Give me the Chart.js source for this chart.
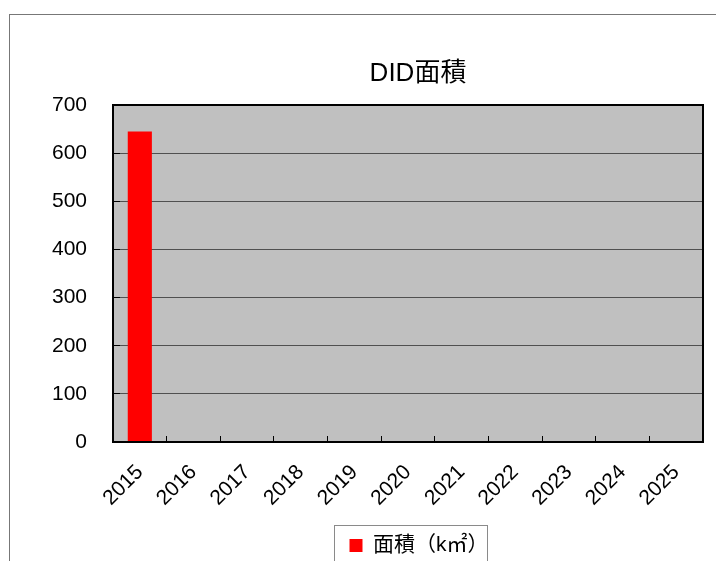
<!DOCTYPE html>
<html><head><meta charset="utf-8">
<script src="https://cdn.jsdelivr.net/npm/chart.js@4/dist/chart.umd.min.js"></script>
<style>
html,body{margin:0;padding:0;background:#fff;overflow:hidden;width:716px;height:561px;}
#frame{position:absolute;left:9px;top:14px;width:800px;height:700px;border:1px solid #777;box-sizing:border-box;}
#wrap{position:absolute;left:0;top:0;width:716px;height:580px;}
</style></head><body>
<div id="frame"></div>
<div id="wrap"><canvas id="c" width="716" height="580"></canvas></div>
<script>
const chartTitle = 'DID面積';
const categories = ['2015','2016','2017','2018','2019','2020','2021','2022','2023','2024','2025'];
const seriesLabel = '面積（k㎡）';
const areaValues = [645, null, null, null, null, null, null, null, null, null, null];
const yMin = 0, yMax = 700, yStep = 100;

const latinCjk = '"Liberation Sans", "Noto Sans CJK JP", sans-serif';
const legendShift = 11;

const plotBackground = {
  id: 'plotBackground',
  beforeDraw(chart) {
    const {ctx, chartArea: a} = chart;
    ctx.save(); ctx.fillStyle = '#C0C0C0';
    ctx.fillRect(a.left, a.top, a.right - a.left, a.bottom - a.top);
    ctx.restore();
  }
};
const plotBorder = {
  id: 'plotBorder',
  afterDatasetsDraw(chart) {
    const {ctx, chartArea: a} = chart;
    ctx.save(); ctx.strokeStyle = '#000'; ctx.lineWidth = 2;
    ctx.strokeRect(a.left, a.top, a.right - a.left, a.bottom - a.top);
    ctx.restore();
  }
};
const titleDraw = {
  id: 'titleDraw',
  afterDraw(chart) {
    const {ctx, chartArea: a} = chart;
    ctx.save(); ctx.fillStyle = '#000';
    ctx.font = '26px ' + latinCjk;
    ctx.textAlign = 'center'; ctx.textBaseline = 'middle';
    ctx.fillText(chartTitle, (a.left + a.right) / 2 + 10, a.top - 31);
    ctx.restore();
  }
};
const legendAdjust = {
  id: 'legendAdjust',
  afterLayout(chart) {
    chart.legend.left += legendShift;
    chart.legend.right += legendShift;
  },
  afterDraw(chart) {
    const hb = chart.legend.legendHitBoxes[0];
    if (!hb) return;
    const ctx = chart.ctx;
    const cy = hb.top + hb.height / 2;
    const left = hb.left - 16;
    const right = hb.left + hb.width - 2;
    ctx.save(); ctx.strokeStyle = '#8a8a8a'; ctx.lineWidth = 1;
    ctx.strokeRect(Math.round(left) + 0.5, Math.round(cy - 21) + 0.5, Math.round(right - left), 60);
    ctx.restore();
  }
};

new Chart(document.getElementById('c'), {
  type: 'bar',
  data: {
    labels: categories,
    datasets: [{
      label: seriesLabel,
      data: areaValues,
      backgroundColor: '#FF0000',
      borderWidth: 0,
      categoryPercentage: 1,
      barPercentage: 0.45
    }]
  },
  options: {
    responsive: false,
    animation: false,
    devicePixelRatio: 1,
    layout: { padding: { top: 105, right: 13, bottom: 14, left: 0 } },
    plugins: {
      title: { display: false },
      tooltip: { enabled: false },
      legend: {
        display: true,
        position: 'bottom',
        fullSize: false,
        labels: {
          color: '#000',
          font: { family: latinCjk, size: 21 },
          boxWidth: 13, boxHeight: 13, padding: 10
        }
      }
    },
    scales: {
      x: {
        grid: { display: true, drawOnChartArea: false, drawTicks: true, tickLength: -6, tickColor: '#000', offset: true },
        border: { display: false },
        ticks: { color: '#000', font: { family: latinCjk, size: 21 }, maxRotation: 45, minRotation: 45, padding: 24 },
        afterFit(s) { s.height = 83; s.paddingRight = 0; }
      },
      y: {
        min: yMin, max: yMax,
        grid: { color: '#505050', lineWidth: 1, drawTicks: true, tickLength: -7, tickColor: '#000' },
        border: { display: false },
        ticks: { stepSize: yStep, color: '#000', font: { family: latinCjk, size: 21 }, padding: 33 },
        afterFit(s) { s.width = 113; }
      }
    }
  },
  plugins: [plotBackground, plotBorder, titleDraw, legendAdjust]
});
</script>
</body></html>
